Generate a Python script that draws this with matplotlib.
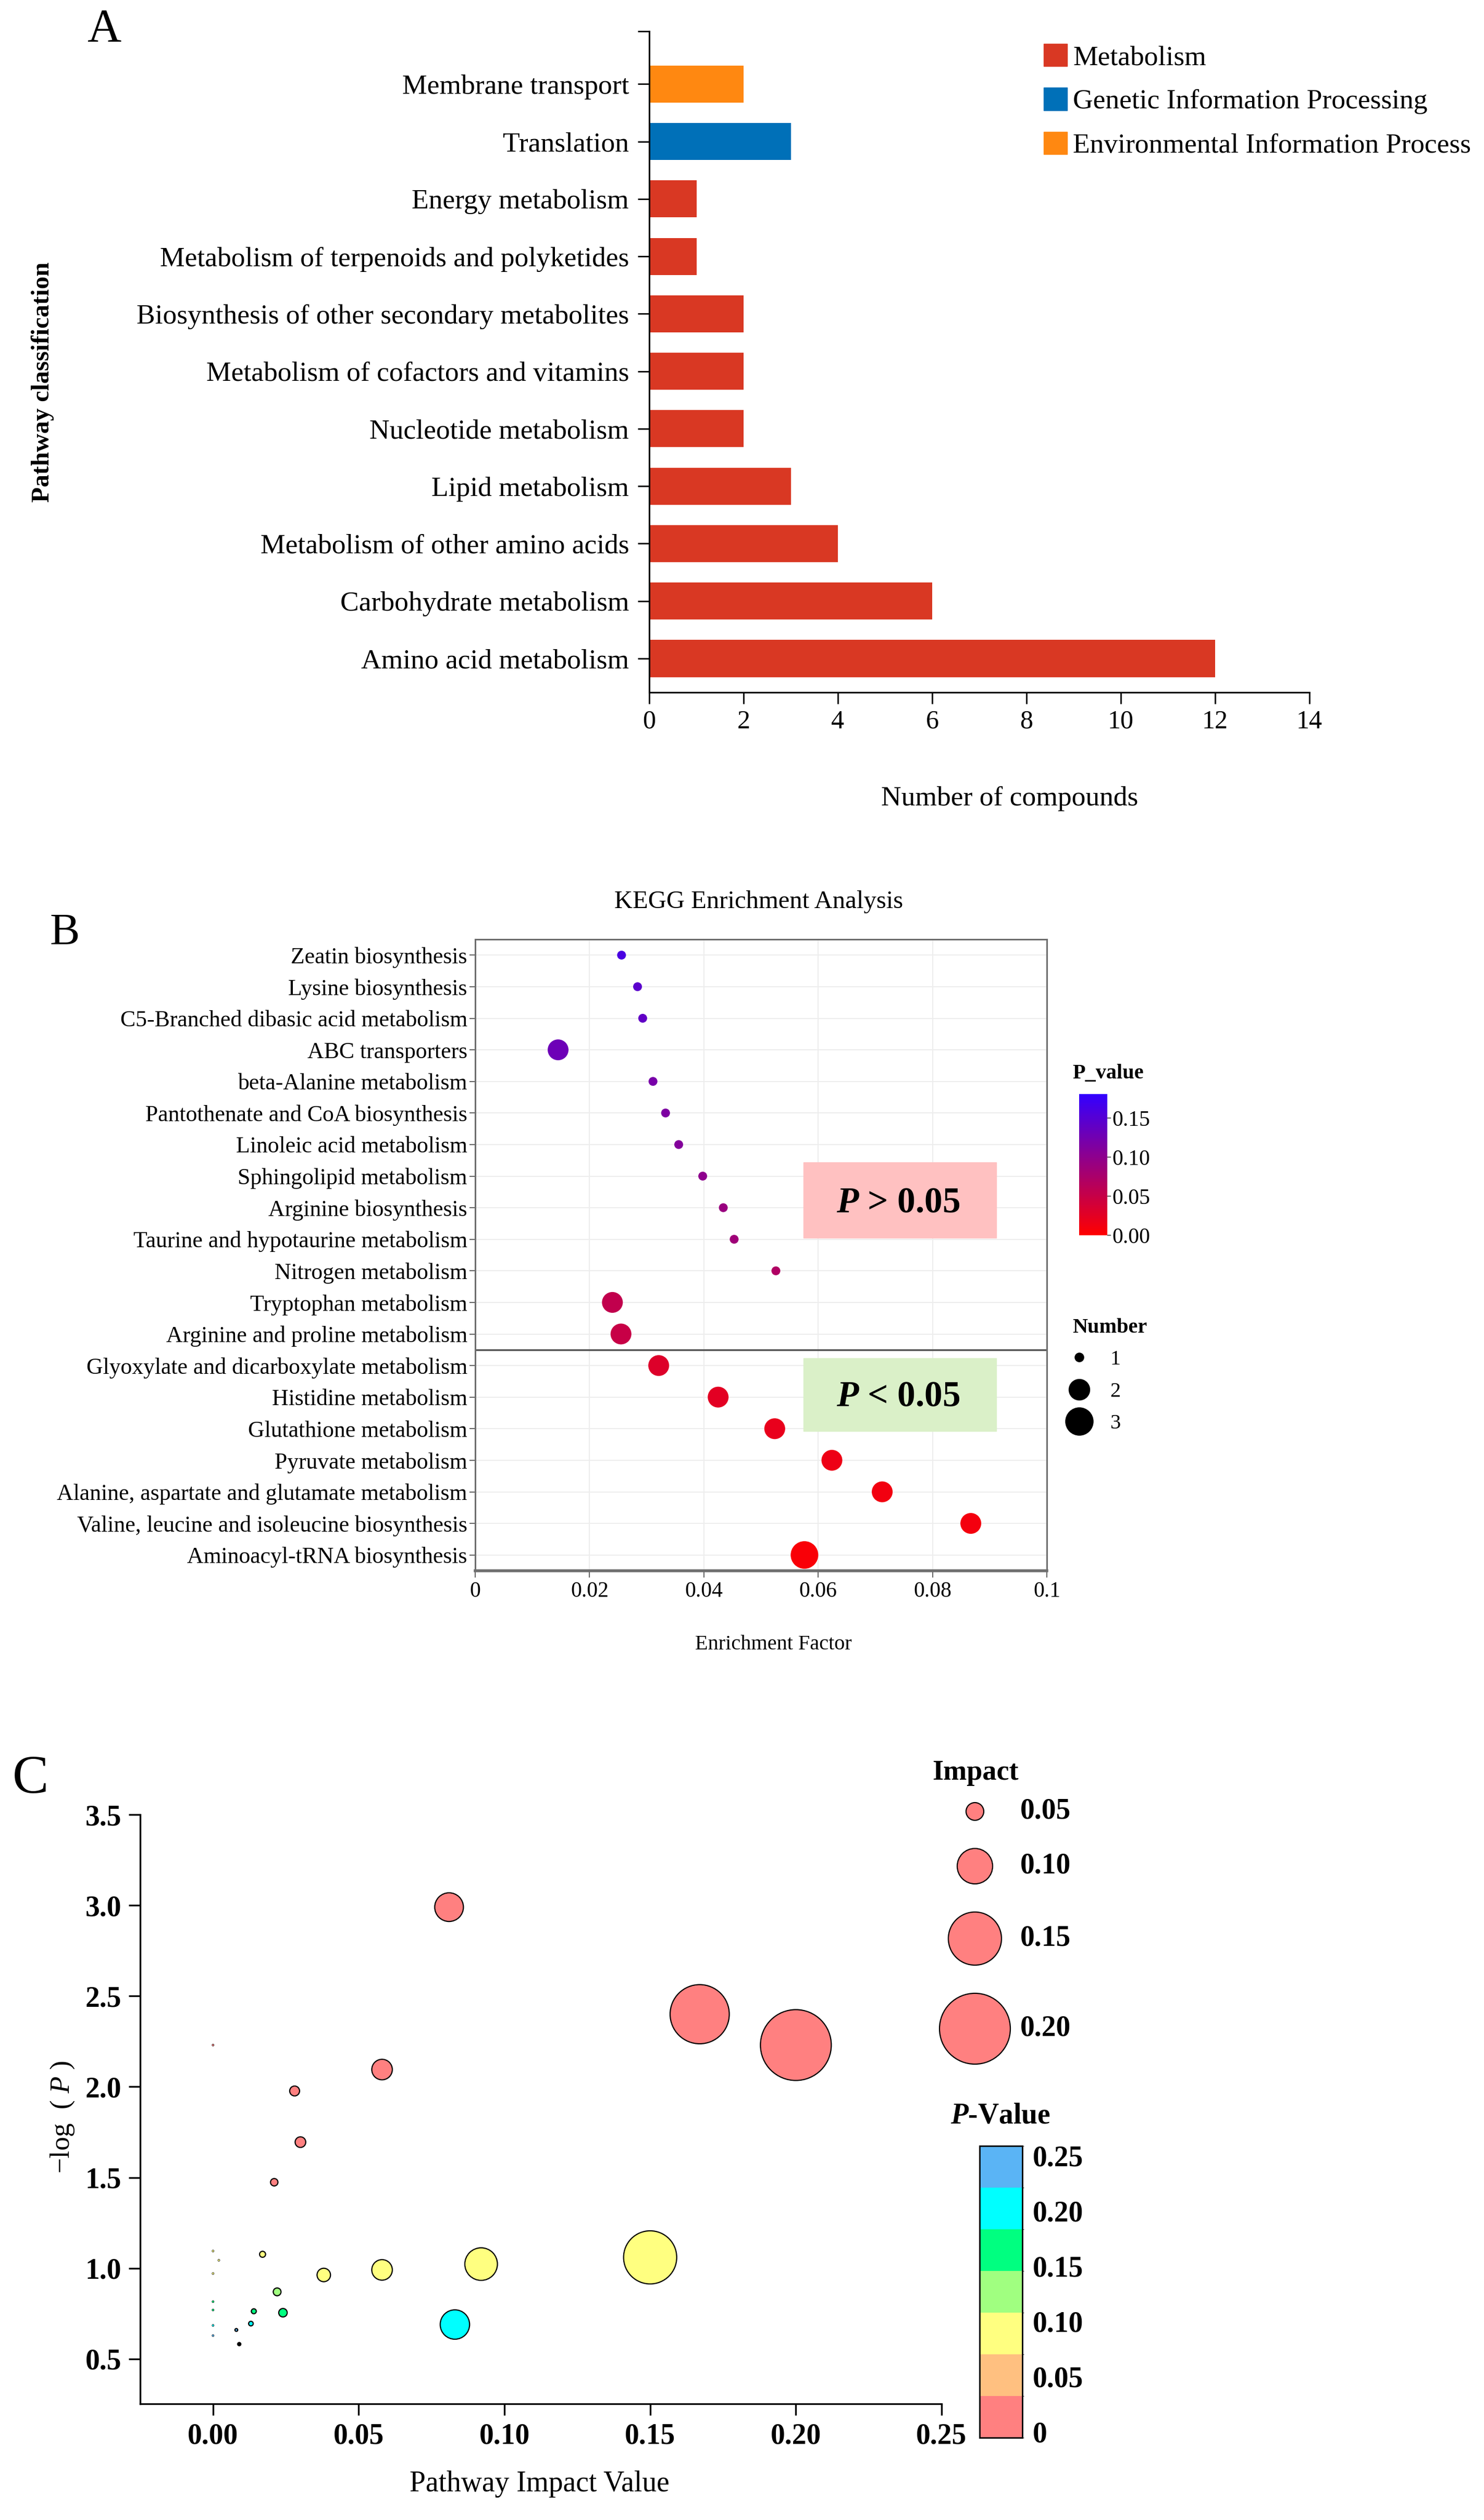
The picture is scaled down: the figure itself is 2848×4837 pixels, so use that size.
import matplotlib.pyplot as plt
import numpy as np
from matplotlib.patches import Patch, Rectangle
from matplotlib.lines import Line2D
from matplotlib.colors import LinearSegmentedColormap, ListedColormap, BoundaryNorm
import matplotlib.cm as cm

plt.rcParams['font.family'] = ['Liberation Serif', 'DejaVu Serif']
plt.rcParams['mathtext.fontset'] = 'custom'
plt.rcParams['mathtext.rm'] = 'Liberation Serif'
plt.rcParams['mathtext.it'] = 'Liberation Serif:italic'
plt.rcParams['mathtext.bf'] = 'Liberation Serif:bold:italic'

# ---- data: panel A ----
pathways_a = ['Amino acid metabolism', 'Carbohydrate metabolism', 'Metabolism of other amino acids',
              'Lipid metabolism', 'Nucleotide metabolism', 'Metabolism of cofactors and vitamins',
              'Biosynthesis of other secondary metabolites', 'Metabolism of terpenoids and polyketides',
              'Energy metabolism', 'Translation', 'Membrane transport']
counts_a = [12, 6, 4, 3, 2, 2, 2, 1, 1, 3, 2]
groups_a = ['Metabolism'] * 9 + ['Genetic Information Processing', 'Environmental Information Process']
group_names = ['Metabolism', 'Genetic Information Processing', 'Environmental Information Process']

# ---- data: panel B ----
pathways_b = ['Zeatin biosynthesis', 'Lysine biosynthesis', 'C5-Branched dibasic acid metabolism',
              'ABC transporters', 'beta-Alanine metabolism', 'Pantothenate and CoA biosynthesis',
              'Linoleic acid metabolism', 'Sphingolipid metabolism', 'Arginine biosynthesis',
              'Taurine and hypotaurine metabolism', 'Nitrogen metabolism', 'Tryptophan metabolism',
              'Arginine and proline metabolism', 'Glyoxylate and dicarboxylate metabolism',
              'Histidine metabolism', 'Glutathione metabolism', 'Pyruvate metabolism',
              'Alanine, aspartate and glutamate metabolism', 'Valine, leucine and isoleucine biosynthesis',
              'Aminoacyl-tRNA biosynthesis']
enrich_b = [0.0256, 0.0284, 0.0293, 0.0145, 0.0311, 0.0333, 0.0356, 0.0398, 0.0434, 0.0453,
            0.0526, 0.0240, 0.0255, 0.0321, 0.0425, 0.0524, 0.0624, 0.0712, 0.0867, 0.0576]
number_b = [1, 1, 1, 2, 1, 1, 1, 1, 1, 1, 1, 2, 2, 2, 2, 2, 2, 2, 2, 3]
pvalue_b = [0.16, 0.145, 0.14, 0.13, 0.12, 0.115, 0.11, 0.10, 0.09, 0.085,
            0.07, 0.055, 0.05, 0.03, 0.025, 0.02, 0.015, 0.012, 0.01, 0.005]

# ---- data: panel C ----
impact_c = [0.081, 0.167, 0.200, 0.058, 0.028, 0.030, 0.021, 0.000, 0.150, 0.092, 0.058, 0.038,
            0.017, 0.022, 0.024, 0.014, 0.013, 0.083, 0.008, 0.009, 0.000, 0.002, 0.000, 0.000,
            0.000, 0.000, 0.000]
logp_c = [2.99, 2.40, 2.23, 2.095, 1.977, 1.695, 1.474, 2.23, 1.06, 1.023, 0.991, 0.963,
          1.077, 0.87, 0.755, 0.763, 0.695, 0.69, 0.66, 0.582, 1.095, 1.044, 0.971, 0.816,
          0.770, 0.685, 0.629]
pvalue_c = [0.001, 0.004, 0.006, 0.008, 0.011, 0.02, 0.03, 0.006, 0.087, 0.095, 0.1, 0.1,
            0.084, 0.135, 0.165, 0.17, 0.2, 0.2, 0.23, 0.27, 0.08, 0.09, 0.1, 0.15, 0.17, 0.2, 0.23]
legend_impacts = [0.05, 0.10, 0.15, 0.20]
pticks_c = [0, 0.05, 0.10, 0.15, 0.20, 0.25]

W, H = 2848, 4837
fig = plt.figure(figsize=(W / 100, H / 100), dpi=100)


def box(l, t, r, b):
    return [l / W, 1 - b / H, (r - l) / W, (b - t) / H]


def fx(x):
    return x / W


def fy(y):
    return 1 - y / H


# ================= A =================
colors_a = {'Metabolism': '#D93823', 'Genetic Information Processing': '#0070B8',
            'Environmental Information Process': '#FF8811'}
axA = fig.add_axes(box(1246, 60, 2513, 1329))
ya = np.arange(len(pathways_a))
axA.barh(ya, counts_a, height=0.645, color=[colors_a[g] for g in groups_a])
axA.set_xlim(0, 14)
axA.set_ylim(-0.59, 10.92)
axA.set_xticks(range(0, 15, 2))
axA.set_yticks(ya)
axA.set_yticklabels(pathways_a)
axA.set_yticks([10.92], minor=True)
axA.tick_params(axis='x', labelsize=36, length=16, width=2, pad=8)
axA.tick_params(axis='y', labelsize=38.5, length=16, width=2, pad=12)
axA.tick_params(axis='y', which='minor', length=16, width=2)
for s in ['top', 'right']:
    axA.spines[s].set_visible(False)
for s in ['left', 'bottom']:
    axA.spines[s].set_linewidth(2.2)

fig.text(fx(200), fy(58), 'A', fontsize=65, ha='center', va='center')
fig.text(fx(1938), fy(1533), 'Number of compounds', fontsize=38.5, ha='center', va='center')
fig.text(fx(82), fy(733), 'Pathway classification', fontsize=35, fontweight='bold',
         rotation=90, ha='center', va='center')
fig.legend(handles=[Patch(color=colors_a[g]) for g in group_names], labels=group_names,
           loc='upper left', bbox_to_anchor=(fx(2003), fy(84)), frameon=False, fontsize=38.5,
           handlelength=0.85, handleheight=0.87, handletextpad=0.2, labelspacing=0.62,
           borderpad=0, borderaxespad=0)

# ================= B =================
dot_diam_b = {1: 17, 2: 40, 3: 53}
cmapB = LinearSegmentedColormap.from_list('pv', ['#FF0000', '#3300FF'])
axB = fig.add_axes(box(912, 1803, 2009, 3015))
yb = np.arange(len(pathways_b))
sc = axB.scatter(enrich_b, yb, s=[(dot_diam_b[n] * 0.72) ** 2 for n in number_b], c=pvalue_b,
                 cmap=cmapB, vmin=0, vmax=0.181, linewidths=0, zorder=3)
axB.set_xlim(0, 0.1)
axB.set_ylim(len(pathways_b) - 0.5, -0.5)
axB.set_yticks(yb)
axB.set_yticklabels(pathways_b)
axB.set_xticks([0, 0.02, 0.04, 0.06, 0.08, 0.1])
axB.set_xticklabels(['0', '0.02', '0.04', '0.06', '0.08', '0.1'])
axB.grid(True, color='#EDEDED', lw=1.5)
axB.set_axisbelow(True)
axB.tick_params(axis='y', labelsize=31.5, length=8, width=1.5, color='#666666', pad=3)
axB.tick_params(axis='x', labelsize=30, length=9, width=1.5, color='#666666', pad=6)
for s in axB.spines.values():
    s.set_color('#6E6E6E')
    s.set_linewidth(2.2)
axB.spines['bottom'].set_linewidth(4)
axB.axhline(12.5, color='#555555', lw=2.5, zorder=2)
axB.add_patch(Rectangle((0.0574, 6.57), 0.0338, 2.39, color='#FFC1C1', zorder=1))
axB.add_patch(Rectangle((0.0574, 12.76), 0.0338, 2.31, color='#DAF0C8', zorder=1))
axB.text(0.0740, 7.85, r'$\mathbf{P}$ > 0.05', fontsize=50, fontweight='bold', ha='center', va='center')
axB.text(0.0740, 14.0, r'$\mathbf{P}$ < 0.05', fontsize=50, fontweight='bold', ha='center', va='center')

fig.text(fx(124), fy(1792), 'B', fontsize=62, ha='center', va='center')
fig.text(fx(1456), fy(1731), 'KEGG Enrichment Analysis', fontsize=35, ha='center', va='center')
fig.text(fx(1484), fy(3157), 'Enrichment Factor', fontsize=29, ha='center', va='center')

caxB = fig.add_axes(box(2071, 2100, 2125, 2371))
cbB = fig.colorbar(sc, cax=caxB, ticks=[0, 0.05, 0.10, 0.15])
cbB.ax.set_yticklabels(['0.00', '0.05', '0.10', '0.15'])
cbB.ax.tick_params(labelsize=30, length=5, width=1.5, color='#666666', pad=2)
cbB.outline.set_visible(False)
fig.text(fx(2058), fy(2061), 'P_value', fontsize=29, fontweight='bold', ha='left', va='center')
fig.legend(handles=[Line2D([], [], marker='o', ls='', color='black', markersize=dot_diam_b[n] * 0.72)
                    for n in [1, 2, 3]],
           labels=['1', '2', '3'], title='Number', title_fontproperties={'size': 29, 'weight': 'bold'},
           alignment='left', loc='upper left', bbox_to_anchor=(fx(2058), fy(2530)), frameon=False,
           fontsize=29, handlelength=0.65, handletextpad=1.15, labelspacing=0.6,
           borderpad=0, borderaxespad=0)

# ================= C =================
colors_c = ['#FF8080', '#FFC080', '#FFFF80', '#A0FF80', '#00FF80', '#00FFFF', '#5AB4F5']
cmapC = ListedColormap(colors_c).with_extremes(over='black')
normC = BoundaryNorm(np.linspace(-0.0055, 0.2585, 8), 7)


def bubble(v):
    return (np.maximum(680 * np.asarray(v), 4) * 0.72) ** 2


axC = fig.add_axes(box(269, 3483, 1807, 4614))
imp = np.asarray(impact_c)
axC.scatter(impact_c, logp_c, s=bubble(impact_c), c=pvalue_c, cmap=cmapC, norm=normC,
            edgecolors='black', linewidths=np.where(imp > 0.004, 1.6, 0.5), zorder=3, clip_on=False)
axC.set_xlim(-0.025, 0.25)
axC.set_ylim(0.253, 3.5)
axC.set_xticks([0, 0.05, 0.10, 0.15, 0.20, 0.25])
axC.set_xticklabels(['0.00', '0.05', '0.10', '0.15', '0.20', '0.25'])
axC.set_yticks([0.5, 1.0, 1.5, 2.0, 2.5, 3.0, 3.5])
axC.set_yticklabels(['0.5', '1.0', '1.5', '2.0', '2.5', '3.0', '3.5'])
axC.tick_params(labelsize=40, length=16, width=2.4, pad=10)
for lab in axC.get_xticklabels() + axC.get_yticklabels():
    lab.set_fontweight('bold')
for s in ['top', 'right']:
    axC.spines[s].set_visible(False)
for s in ['left', 'bottom']:
    axC.spines[s].set_linewidth(2.4)

fig.text(fx(58), fy(3416), 'C', fontsize=75, ha='center', va='center')
fig.text(fx(1035), fy(4768), 'Pathway Impact Value', fontsize=40, ha='center', va='center')
fig.text(fx(120), fy(4064), r'−log  ( $\mathit{P}$ )', fontsize=38, rotation=90, ha='center', va='center')

# impact legend
laxC = fig.add_axes(box(1760, 3370, 2150, 3990))
laxC.set_xlim(1760, 2150)
laxC.set_ylim(3990, 3370)
laxC.axis('off')
diams = [680 * v for v in legend_impacts]
ys = [3477]
for k in range(1, len(diams)):
    ys.append(ys[-1] + (diams[k - 1] + diams[k]) / 2 + 54)
laxC.scatter([1871] * len(ys), ys, s=bubble(legend_impacts), color=colors_c[0],
             edgecolors='black', linewidths=1.6, clip_on=False)
for yy, v in zip(ys, legend_impacts):
    laxC.text(1958, yy, f'{v:.2f}', fontsize=40, fontweight='bold', ha='left', va='center')
fig.text(fx(1789), fy(3403), 'Impact', fontsize=39, fontweight='bold', ha='left', va='center')
fig.text(fx(1920), fy(4062), r'$\mathbf{P}$-Value', fontsize=40, fontweight='bold', ha='center', va='center')

caxC = fig.add_axes(box(1880, 4119, 1962, 4679))
cbC = fig.colorbar(cm.ScalarMappable(norm=normC, cmap=cmapC), cax=caxC, ticks=pticks_c)
cbC.ax.set_yticklabels(['0', '0.05', '0.10', '0.15', '0.20', '0.25'])
cbC.ax.tick_params(labelsize=40, length=0, pad=14)
for lab in cbC.ax.get_yticklabels():
    lab.set_fontweight('bold')
cbC.outline.set_linewidth(2)

fig.savefig('out.png', dpi=100)
